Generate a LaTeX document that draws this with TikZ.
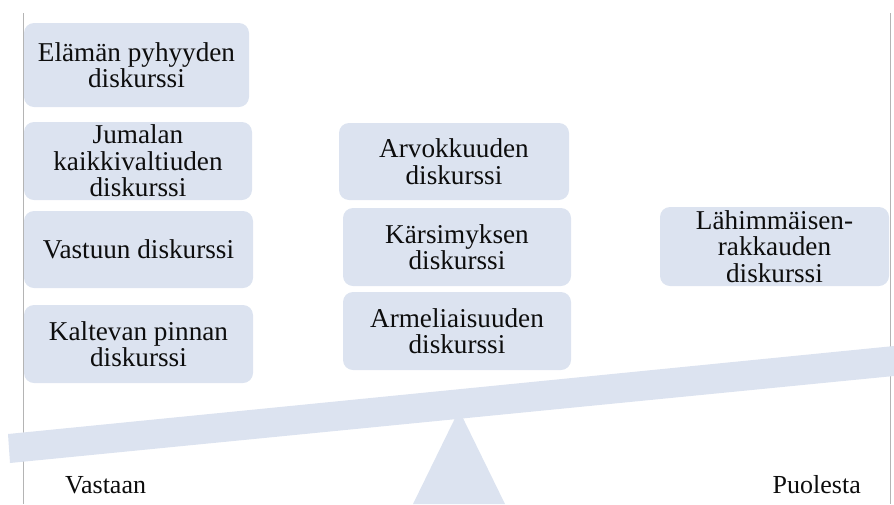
\documentclass[tikz,border=0pt]{standalone}
\usepackage{fontspec}
\setmainfont{Liberation Serif}
\definecolor{boxfill}{RGB}{220,227,240}
\definecolor{rulegray}{RGB}{180,180,180}
\tikzset{
  disc/.style={fill=boxfill, rounded corners=10pt, inner sep=0pt, align=center,
    font=\fontsize{27.2}{26.5}\selectfont, text=black!95},
  lbl/.style={inner sep=0pt, font=\fontsize{26}{26.5}\selectfont, text=black!95},
  siderule/.style={draw=rulegray, line width=1pt},
  scalefill/.style={fill=boxfill}
}
\begin{document}
\begin{tikzpicture}[x=1pt,y=-1pt]
\useasboundingbox (0,0) rectangle (894,504);
% side rules
\coordinate (lt) at (23,13); \coordinate (lb) at (23,504);
\coordinate (rt) at (890,13); \coordinate (rb) at (890,504);
\draw[siderule] (lt) -- (lb);
\draw[siderule] (rt) -- (rb);
% left column
\node[disc, minimum width=225pt, minimum height=84pt] (b1) at (136.5,65) {Elämän pyhyyden\\diskurssi};
\node[disc, minimum width=228pt, minimum height=78pt] (b2) at (138,161) {Jumalan\\kaikkivaltiuden\\diskurssi};
\node[disc, minimum width=229pt, minimum height=77pt] (b3) at (138.5,249.5) {Vastuun diskurssi};
\node[disc, minimum width=229pt, minimum height=78pt] (b4) at (138.5,344) {Kaltevan pinnan\\diskurssi};
% middle column
\node[disc, minimum width=230pt, minimum height=77pt] (m1) at (454,161.5) {Arvokkuuden\\diskurssi};
\node[disc, minimum width=228pt, minimum height=78pt] (m2) at (457,247) {Kärsimyksen\\diskurssi};
\node[disc, minimum width=228pt, minimum height=78pt] (m3) at (457,331) {Armeliaisuuden\\diskurssi};
% right
\node[disc, minimum width=229pt, minimum height=79pt] (r1) at (774.5,246.5) {Lähimmäisen-\\rakkauden\\diskurssi};
% fulcrum and beam
\fill[scalefill] (459,410) -- (413,504) -- (505,504) -- cycle;
\fill[scalefill] (8,434) -- (894,346) -- (894,376) -- (10,463) -- cycle;
% labels
\node[lbl, anchor=base west] (vastaan) at (65,493) {Vastaan};
\node[lbl, anchor=base east] (puolesta) at (861,493) {Puolesta};
\end{tikzpicture}
\end{document}
